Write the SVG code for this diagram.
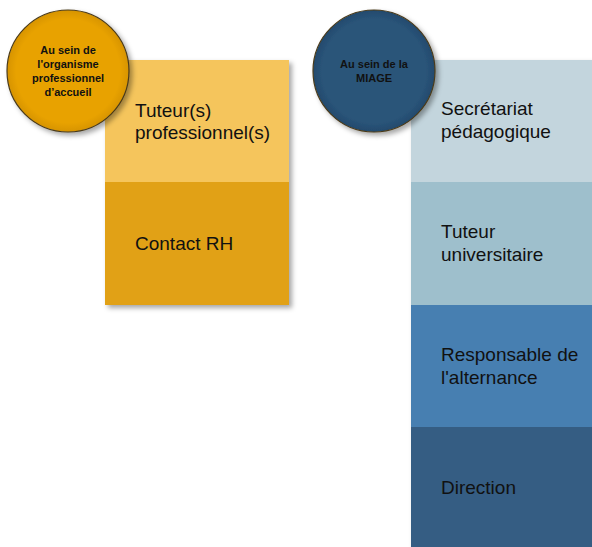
<svg xmlns="http://www.w3.org/2000/svg" width="592" height="547" viewBox="0 0 592 547">
<defs>
<filter id="sh" x="-20%" y="-20%" width="140%" height="140%">
<feDropShadow dx="3" dy="3" stdDeviation="2.5" flood-color="#000" flood-opacity="0.35"/>
</filter>
<radialGradient id="gOr" cx="0.5" cy="0.5" r="0.5">
<stop offset="0.85" stop-color="#E8A202"/>
<stop offset="1" stop-color="#D79400"/>
</radialGradient>
<radialGradient id="gBl" cx="0.5" cy="0.5" r="0.5">
<stop offset="0.85" stop-color="#2A5479"/>
<stop offset="1" stop-color="#234A6D"/>
</radialGradient>
</defs>
<style>
.lbl{font-family:"Liberation Sans",Arial,sans-serif;font-size:19px;fill:#111;}
.cl{font-family:"Liberation Sans",Arial,sans-serif;font-size:11px;font-weight:bold;fill:#111;text-anchor:middle;}
.circ{stroke:#4a3a1a;stroke-width:1.2;filter:url(#sh);}
</style>
<g id="left-panel" filter="url(#sh)">
<rect x="105" y="60" width="184" height="122" fill="#F5C55B"/>
<rect x="105" y="182" width="184" height="123" fill="#E1A117"/>
</g>
<g id="right-panel" filter="url(#sh)">
<rect x="411" y="60" width="185" height="122" fill="#C3D5DD"/>
<rect x="411" y="182" width="185" height="123" fill="#9EBFCC"/>
<rect x="411" y="305" width="185" height="122" fill="#477FB1"/>
<rect x="411" y="427" width="185" height="124" fill="#365D83"/>
</g>
<g id="n-tuteurs-pro"><text class="lbl" x="135" y="117">Tuteur(s)</text><text class="lbl" x="135" y="139">professionnel(s)</text></g>
<g id="n-contact-rh"><text class="lbl" x="135" y="250">Contact RH</text></g>
<g id="n-secretariat"><text class="lbl" x="441" y="115">Secrétariat</text><text class="lbl" x="441" y="138">pédagogique</text></g>
<g id="n-tuteur-univ"><text class="lbl" x="441" y="238">Tuteur</text><text class="lbl" x="441" y="261">universitaire</text></g>
<g id="n-responsable"><text class="lbl" x="441" y="361">Responsable de</text><text class="lbl" x="441" y="384">l'alternance</text></g>
<g id="n-direction"><text class="lbl" x="441" y="494">Direction</text></g>
<g id="c-organisme">
<circle class="circ" cx="68" cy="71" r="61" fill="url(#gOr)"/>
<text class="cl" x="68" y="54">Au sein de</text>
<text class="cl" x="68" y="68">l'organisme</text>
<text class="cl" x="68" y="82">professionnel</text>
<text class="cl" x="68" y="96">d’accueil</text>
</g>
<g id="c-miage">
<circle class="circ" cx="374" cy="71" r="61" fill="url(#gBl)"/>
<text class="cl" x="374" y="68">Au sein de la</text>
<text class="cl" x="374" y="82">MIAGE</text>
</g>
<g id="connectors"/>
</svg>
